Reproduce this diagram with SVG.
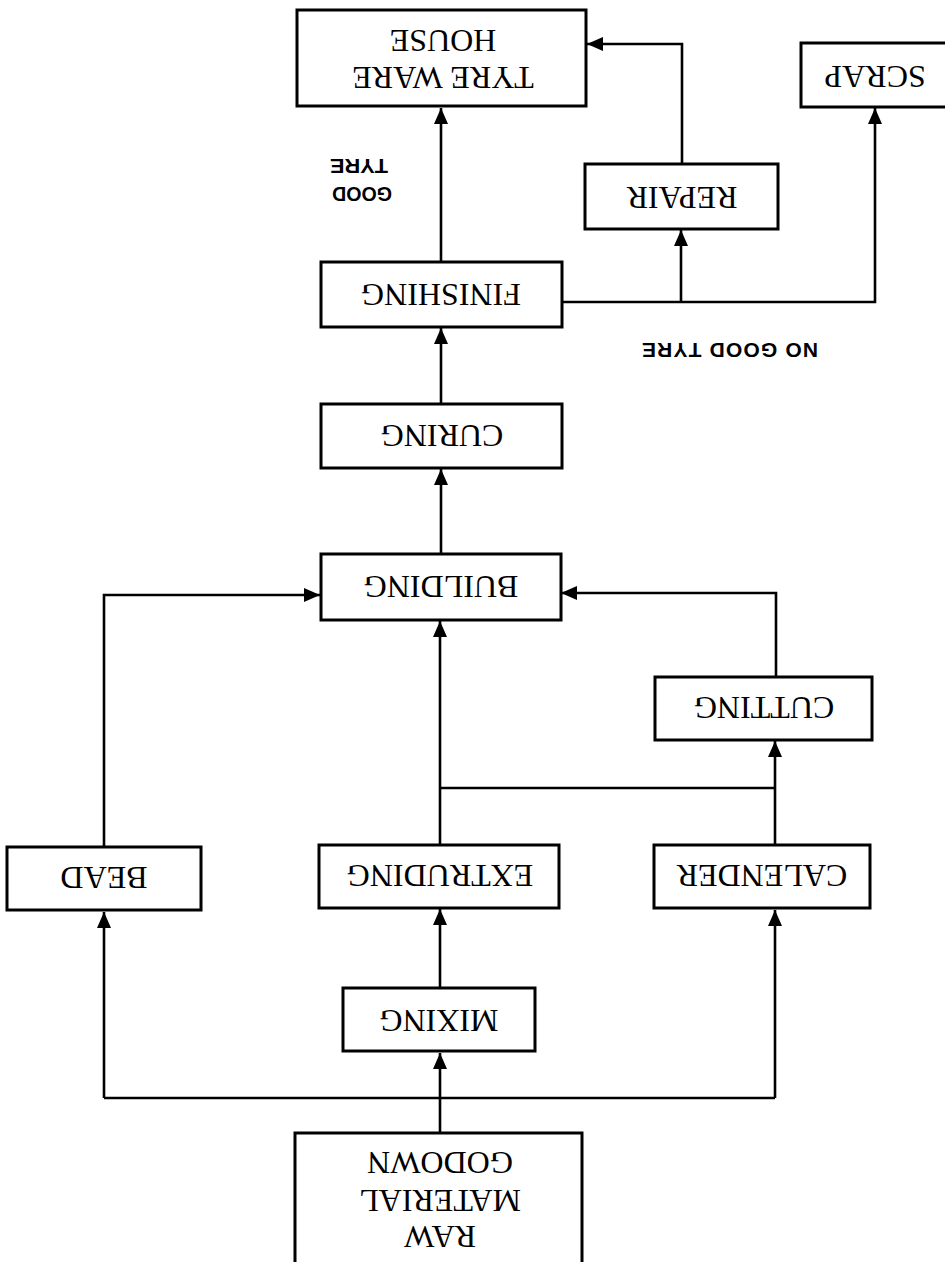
<svg xmlns="http://www.w3.org/2000/svg" width="945" height="1262" viewBox="0 0 945 1262">
<style>
.box{fill:#fff;stroke:#000;stroke-width:3}
.lbl{font-family:"Liberation Serif","Times New Roman",serif;font-size:32px;fill:#000;text-anchor:middle}
.note{font-family:"Liberation Sans",Arial,sans-serif;font-size:21px;font-weight:bold;fill:#000;text-anchor:middle}
.con{fill:none;stroke:#000;stroke-width:2.6}
</style>
<defs>
<marker id="arr" viewBox="0 0 16 14" markerWidth="16" markerHeight="14" refX="16" refY="7" orient="auto" markerUnits="userSpaceOnUse">
<path d="M0,0 L16,7 L0,14 z" fill="#000"/>
</marker>
</defs>
<rect width="945" height="1262" fill="#fff"/>
<g id="connectors">
<path class="con" d="M440 1133 V1053" marker-end="url(#arr)"/>
<path class="con" d="M104 1098 H775"/>
<path class="con" d="M104 1098 V912" marker-end="url(#arr)"/>
<path class="con" d="M775 1098 V910" marker-end="url(#arr)"/>
<path class="con" d="M440 988 V909" marker-end="url(#arr)"/>
<path class="con" d="M440 845 V621" marker-end="url(#arr)"/>
<path class="con" d="M440 788 H775"/>
<path class="con" d="M775 845 V741" marker-end="url(#arr)"/>
<path class="con" d="M776 677 V593 H561" marker-end="url(#arr)"/>
<path class="con" d="M104 847 V595 H320" marker-end="url(#arr)"/>
<path class="con" d="M441 554 V469" marker-end="url(#arr)"/>
<path class="con" d="M441 404 V328" marker-end="url(#arr)"/>
<path class="con" d="M441 262 V108" marker-end="url(#arr)"/>
<path class="con" d="M562 302 H875 V108" marker-end="url(#arr)"/>
<path class="con" d="M681 302 V230" marker-end="url(#arr)"/>
<path class="con" d="M682 164 V44 H587" marker-end="url(#arr)"/>
</g>
<g id="tyre-ware-house">
<rect class="box" x="297" y="10" width="289" height="96"/>
<text class="lbl" x="443" y="89" transform="rotate(180 443 78)">TYRE WARE</text>
<text class="lbl" x="443" y="52" transform="rotate(180 443 41)">HOUSE</text>
</g>
<g id="scrap">
<rect class="box" x="801" y="43" width="160" height="64"/>
<text class="lbl" x="875" y="88" transform="rotate(180 875 77)">SCRAP</text>
</g>
<g id="repair">
<rect class="box" x="585" y="164" width="193" height="65"/>
<text class="lbl" x="682" y="209" transform="rotate(180 682 198)">REPAIR</text>
</g>
<g id="good-tyre-label">
<text class="note" x="362" y="203" textLength="60" lengthAdjust="spacingAndGlyphs" transform="rotate(180 362 195)">GOOD</text>
<text class="note" x="359" y="175" textLength="58" lengthAdjust="spacingAndGlyphs" transform="rotate(180 359 167)">TYRE</text>
</g>
<g id="finishing">
<rect class="box" x="321" y="262" width="241" height="65"/>
<text class="lbl" x="441" y="306" transform="rotate(180 441 295)">FINISHING</text>
</g>
<g id="no-good-tyre-label">
<text class="note" x="730" y="357" textLength="176" lengthAdjust="spacing" transform="rotate(180 730 350)">NO GOOD TYRE</text>
</g>
<g id="curing">
<rect class="box" x="321" y="404" width="241" height="64"/>
<text class="lbl" x="442" y="447" transform="rotate(180 442 436)">CURING</text>
</g>
<g id="building">
<rect class="box" x="321" y="554" width="240" height="66"/>
<text class="lbl" x="441" y="598" transform="rotate(180 441 587)">BUILDING</text>
</g>
<g id="cutting">
<rect class="box" x="655" y="677" width="217" height="63"/>
<text class="lbl" x="764" y="719" transform="rotate(180 764 708)">CUTTING</text>
</g>
<g id="bead">
<rect class="box" x="7" y="847" width="194" height="63"/>
<text class="lbl" x="104" y="889" transform="rotate(180 104 878)">BEAD</text>
</g>
<g id="extruding">
<rect class="box" x="319" y="845" width="240" height="63"/>
<text class="lbl" x="440" y="887" transform="rotate(180 440 876)">EXTRUDING</text>
</g>
<g id="calender">
<rect class="box" x="654" y="845" width="216" height="63"/>
<text class="lbl" x="762" y="887" transform="rotate(180 762 876)">CALENDER</text>
</g>
<g id="mixing">
<rect class="box" x="343" y="988" width="192" height="63"/>
<text class="lbl" x="439" y="1032" transform="rotate(180 439 1021)">MIXING</text>
</g>
<g id="raw-material-godown">
<rect class="box" x="295" y="1133" width="287" height="150"/>
<text class="lbl" x="440" y="1174" transform="rotate(180 440 1163)">GODOWN</text>
<text class="lbl" x="440" y="1212" transform="rotate(180 440 1201)">MATERIAL</text>
<text class="lbl" x="440" y="1248" transform="rotate(180 440 1237)">RAW</text>
</g>
</svg>
